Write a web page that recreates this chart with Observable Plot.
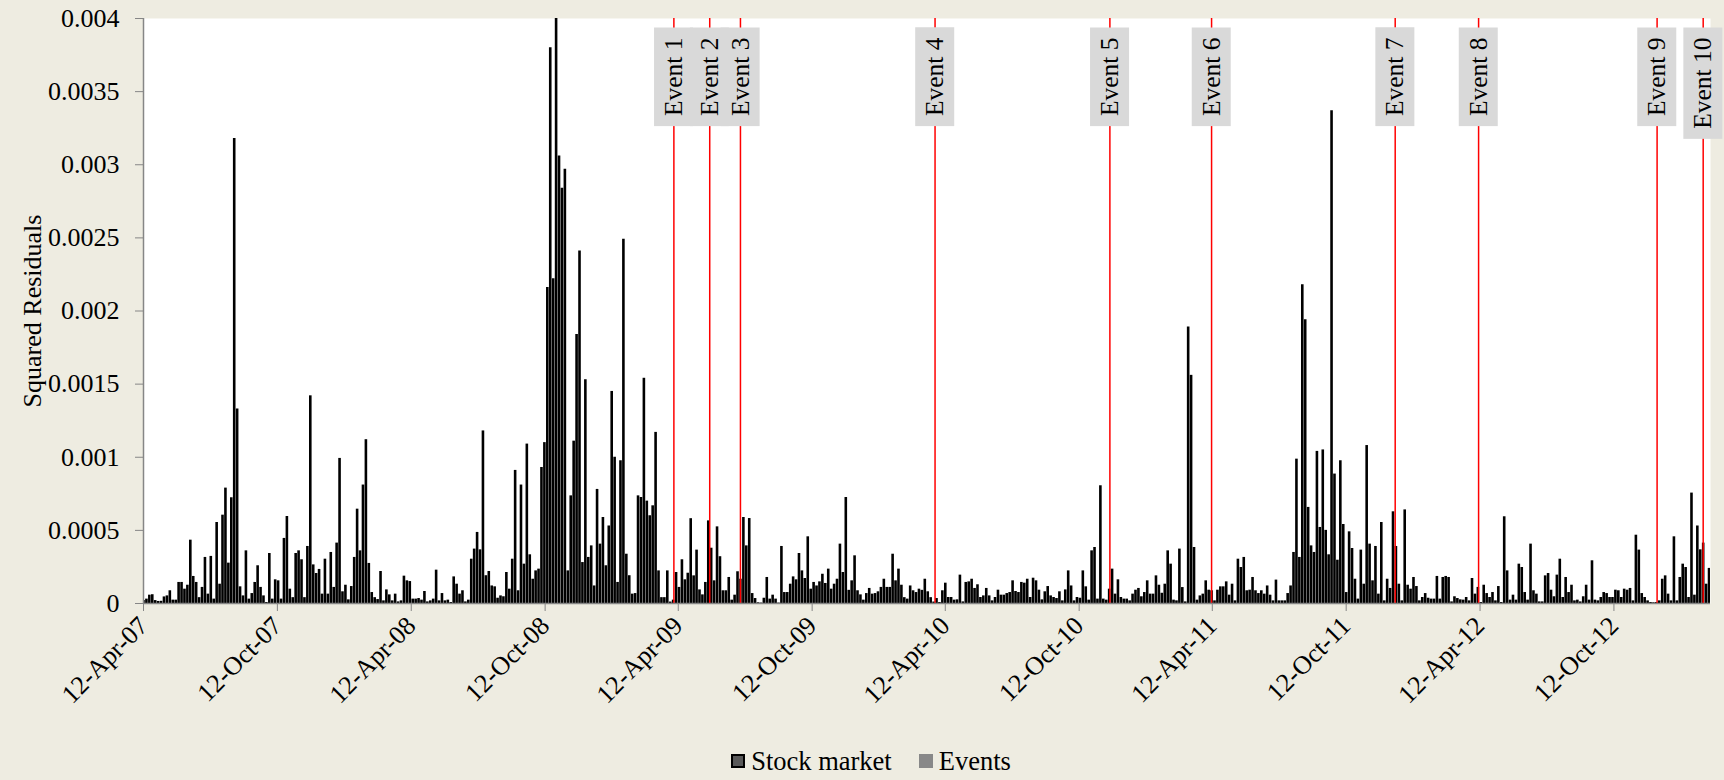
<!DOCTYPE html>
<html>
<head>
<meta charset="utf-8">
<script src="https://cdn.jsdelivr.net/npm/d3@7"></script>
<script src="https://cdn.jsdelivr.net/npm/@observablehq/plot@0.6"></script>
<style>
html, body { margin: 0; padding: 0; background: #EEECE1; }
#chart { position: relative; width: 1724px; height: 780px; font-family: "Liberation Serif", "Times New Roman", serif; }
#chart svg { display: block; }
.legend { position: absolute; left: 9px; top: 742px; width: 1724px; height: 38px; display: flex; justify-content: center; align-items: center; font-size: 26.5px; color: #000; }
.legend .item { display: flex; align-items: center; }
.legend .sw { width: 14px; height: 14px; margin-right: 6px; box-sizing: border-box; }
.legend .sw.stock { background: #595959; border: 2px solid #000; }
.legend .sw.events { background: #888888; }
.legend .gap { width: 27px; }
</style>
</head>
<body>
<div id="chart"></div>
<script>
// ---- Data ----
// Squared residuals of the stock market, in units of 1e-5, one value every 4 calendar days from 12-Apr-2007
const seriesStart = "2007-04-12";
const stepDays = 4;
const valueUnit = 1e-5;
const sqResid = [
  2, 3, 5.7, 6, 2, 1.4, 1.5, 4.5, 5.2, 8.7,
  2.3, 2.3, 14.4, 14.4, 9.8, 12.5, 43.3, 18.5, 14.4, 4,
  11, 31.5, 6.4, 32.2, 3, 55.4, 13.2, 60.4, 78.9, 27.6,
  72.3, 318, 133, 11.4, 5.2, 36, 3, 6.8, 14.4, 25.8,
  11, 5.2, 0.7, 34.2, 3, 16.2, 15.5, 3, 44.5, 59.5,
  9.8, 4, 34.2, 36, 29.9, 4, 39, 142, 26.4, 20.5,
  23.3, 6.4, 30.3, 6.4, 34.9, 11, 41.3, 99.2, 8, 12.5,
  2.5, 11.6, 31.5, 64.5, 36, 81, 112, 27.4, 7.5, 4,
  2.7, 21.9, 1.8, 9.3, 5.9, 1.8, 6.4, 1.1, 1.8, 18.7,
  15.5, 15, 3, 3, 3.4, 2.3, 8.2, 1.1, 1.8, 3,
  22.8, 1.8, 6.8, 1.8, 2.3, 0.7, 18.2, 13.2, 6.4, 8.7,
  1.1, 2.3, 30.3, 37.2, 48.6, 36.7, 118, 19, 21.9, 12,
  11.4, 3.6, 5.2, 4.6, 21.2, 9.8, 30.3, 91, 8.7, 81,
  26.9, 109, 33.3, 16.6, 22.3, 23.5, 93, 110, 216, 380,
  222, 412, 306, 284, 297, 22.3, 73.6, 111, 184, 241,
  28, 153, 31.5, 39.4, 12, 78, 40.6, 58.8, 25.8, 53,
  145, 100, 14.4, 97.6, 249, 33.7, 19, 6.4, 6.8, 73.6,
  72.5, 154, 70, 60, 66.8, 117, 22.3, 4, 4, 22.3,
  1, 2.3, 21.2, 11, 29.9, 16.2, 20.7, 58, 18.9, 36.5,
  9.3, 5.9, 14.4, 56.5, 37.8, 15.5, 52.4, 32, 8.7, 8.7,
  17.8, 2.3, 5.7, 21.7, 16.6, 58.8, 39.4, 58.1, 6.8, 3.4,
  0.5, 0.3, 3.6, 17.8, 3, 5.7, 3, 0.3, 39, 7.5,
  7.5, 13.2, 18.2, 16.2, 34.2, 22.3, 17.1, 45.6, 9.8, 14.4,
  12, 14.8, 20, 13.7, 23.5, 9.8, 13.2, 16.6, 40.6, 21.2,
  72.5, 9, 15.5, 32.6, 8.7, 5.9, 2.3, 6.8, 10.3, 6.4,
  6.8, 8, 11, 16.6, 11, 11, 33.7, 15.5, 23.5, 12.5,
  4, 3, 12, 8.7, 7.5, 9.8, 9, 16.6, 8, 4,
  1, 3.4, 0.7, 8.7, 13.9, 4.1, 4.1, 2.3, 2.5, 19.4,
  1.1, 14.4, 14.8, 16.6, 10.3, 12.8, 4.1, 5.2, 10.3, 5.2,
  1.8, 4.1, 9.1, 5.7, 5.7, 6.8, 7.5, 15.5, 8.2, 7.5,
  14.4, 13.9, 16.6, 4.1, 17.3, 15.5, 9.1, 2.5, 8, 11.6,
  5.2, 4.1, 3.4, 8, 1.8, 9.3, 22.3, 12, 1.8, 4.1,
  3.6, 22.3, 11.4, 2.3, 36, 38.3, 3, 80.5, 3, 2.3,
  9.8, 23.5, 6.4, 16.2, 4.1, 3, 3, 1.8, 6.4, 9.1,
  10.3, 4.6, 7.5, 15.5, 6.4, 6.4, 18.9, 12.5, 7, 13.2,
  36, 26.9, 2.3, 1.8, 37.2, 10.9, 1.1, 189, 156, 38.3,
  2.3, 5.2, 6.4, 15.5, 9.1, 8.7, 1.8, 9.1, 11.4, 11.4,
  14.8, 5.7, 13.2, 1.8, 30.3, 24.6, 31.5, 8.7, 9.1, 17.8,
  8.7, 6.8, 8.7, 6.4, 12, 5.7, 1.8, 16, 1.8, 1.8,
  1.8, 6.8, 12, 34.9, 98.7, 31.5, 218, 194, 65.7, 39.4,
  34.9, 104, 52, 105, 50, 33.3, 337, 88.5, 29.6, 97.6,
  54, 7.5, 49, 37.6, 16.6, 3, 36.5, 13.2, 108, 40.6,
  15.5, 39, 6.4, 55.4, 1.8, 16.6, 10.3, 62.7, 39, 13.2,
  1.8, 64, 12.5, 9.8, 17.8, 11.6, 1.8, 4.1, 6.8, 3.6,
  3, 3, 18.5, 3, 17.8, 18.5, 17.8, 1.1, 4.6, 3.4,
  2.5, 2.3, 4.1, 1.8, 17.1, 6.4, 11, 0.7, 12.5, 6.8,
  4.1, 7.5, 1.8, 11.6, 0.7, 59.3, 22.3, 2.3, 5.7, 2.3,
  26.9, 24.6, 7.5, 2.3, 40.6, 8.7, 6.4, 1.1, 1.1, 18.9,
  20.5, 9.1, 4.6, 19.4, 30.3, 4.1, 17.8, 7.5, 12.5, 1.8,
  2.3, 1.1, 4.6, 12.5, 2.3, 29.2, 2.3, 1.8, 4.1, 7.5,
  6.8, 4.1, 4.1, 9.1, 8.7, 4.1, 9.8, 9.1, 10.3, 1.8,
  46.7, 36.5, 6.8, 4.1, 1.8, 0.7, 0.5, 0.7, 1.8, 16.6,
  18.9, 6.4, 1.8, 45.6, 1.8, 17.8, 26.9, 24.6, 4.1, 75.5,
  5.7, 53, 36.7, 41.3, 13.2, 24
];

// Events
const eventNames = ["Event 1", "Event 2", "Event 3", "Event 4", "Event 5", "Event 6", "Event 7", "Event 8", "Event 9", "Event 10"];
const eventDates = ["2009-04-06", "2009-05-25", "2009-07-06", "2010-03-29", "2010-11-23", "2011-04-11", "2011-12-18", "2012-04-10", "2012-12-10", "2013-02-11"];

// Axes
const xDomainDates = ["2007-04-12", "2013-02-21"];
const xTickDates = ["2007-04-12", "2007-10-12", "2008-04-12", "2008-10-12", "2009-04-12", "2009-10-12",
                    "2010-04-12", "2010-10-12", "2011-04-12", "2011-10-12", "2012-04-12", "2012-10-12"];
const yTicks = [0, 0.0005, 0.001, 0.0015, 0.002, 0.0025, 0.003, 0.0035, 0.004];
const yLabel = "Squared Residuals";
const legendLabels = ["Stock market", "Events"];

// ---- Build tables ----
const parse = d3.utcParse("%Y-%m-%d");
const start = parse(seriesStart);
const bars = sqResid.map((v, i) => ({date: d3.utcDay.offset(start, i * stepDays), value: v * valueUnit}));
const events = eventNames.map((n, i) => ({name: n, date: parse(eventDates[i])}));
const xDomain = xDomainDates.map(parse);
const xTicks = xTickDates.map(parse);

const GRAY = "#868686";
const plot = Plot.plot({
  width: 1724,
  height: 740,
  marginLeft: 143,
  marginRight: 14,
  marginTop: 18,
  marginBottom: 137,
  style: {fontFamily: "'Liberation Serif', 'Times New Roman', serif", fontSize: "26px", background: "transparent", color: "black", overflow: "visible"},
  x: {type: "utc", domain: xDomain},
  y: {domain: [0, 0.004]},
  marks: [
    Plot.frame({fill: "white", stroke: "none"}),
    Plot.ruleX(bars, {x: "date", y1: 0, y2: "value", stroke: "black", strokeWidth: 2.6, clip: true}),
    Plot.ruleX(events, {x: "date", stroke: "#FF0000", strokeWidth: 1.5}),
    Plot.ruleX([xDomain[0]], {stroke: GRAY, strokeWidth: 1.5}),
    Plot.ruleY([0], {stroke: GRAY, strokeWidth: 1.5}),
    Plot.axisY({ticks: yTicks, tickFormat: d => String(d), tickSize: 8, tickPadding: 16, stroke: GRAY, fill: "black",
                label: yLabel, labelAnchor: "center", labelOffset: 121, labelArrow: "none"}),
    Plot.axisX({ticks: xTicks, tickFormat: d3.utcFormat("%d-%b-%y"), tickRotate: -45, tickSize: 8, tickPadding: 10,
                stroke: GRAY, fill: "black", label: null}),
    Plot.text(events, {x: "date", text: "name", frameAnchor: "top", dy: 19, rotate: -90, textAnchor: "end",
                       lineAnchor: "middle", fontSize: 25.5, fill: "black"})
  ]
});

const chart = document.getElementById("chart");
chart.appendChild(plot);

// gray label boxes behind event texts
const g = plot.querySelector('g[aria-label="text"]');
if (g) {
  const texts = Array.from(g.querySelectorAll("text"));
  const first = g.firstChild;
  texts.forEach(t => {
    const b = t.getBBox();
    const r = document.createElementNS("http://www.w3.org/2000/svg", "rect");
    const padX = 10, h = 39;
    r.setAttribute("x", b.x - padX);
    r.setAttribute("y", b.y + b.height / 2 - h / 2);
    r.setAttribute("width", b.width + 2 * padX);
    r.setAttribute("height", h);
    r.setAttribute("fill", "#D9D9D9");
    const tr = t.getAttribute("transform");
    if (tr) r.setAttribute("transform", tr);
    g.insertBefore(r, first);
  });
}

// legend
const legend = document.createElement("div");
legend.className = "legend";
legend.innerHTML =
  `<div class="item"><div class="sw stock"></div><span>${legendLabels[0]}</span></div>` +
  `<div class="gap"></div>` +
  `<div class="item"><div class="sw events"></div><span>${legendLabels[1]}</span></div>`;
chart.appendChild(legend);
</script>
</body>
</html>
